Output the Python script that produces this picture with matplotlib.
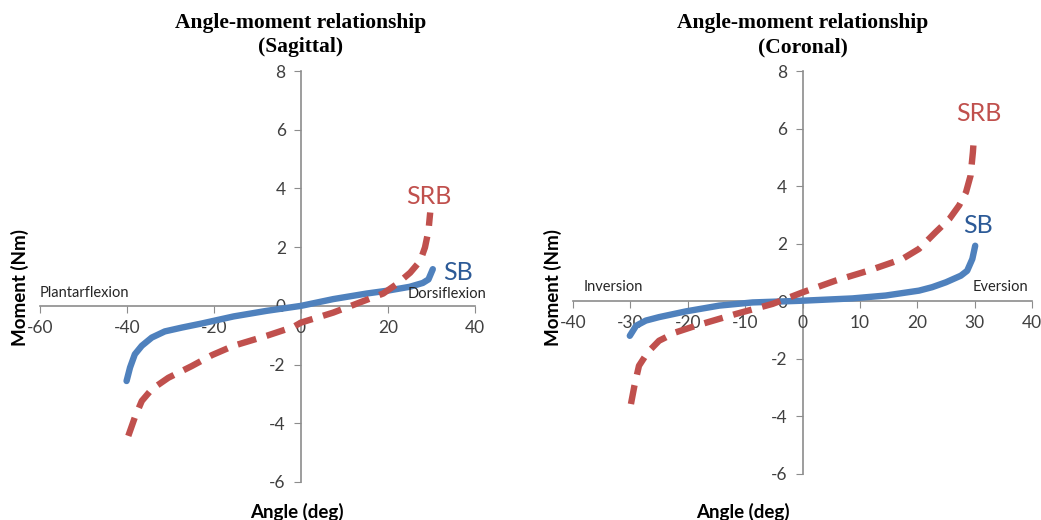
import matplotlib
matplotlib.use("Agg")
import matplotlib.pyplot as plt
import matplotlib.transforms as mtransforms

# ---- data ----
sag_sb_x = [-40.1, -39.3, -38.2, -36.6, -34.3, -31.3, -27.4, -22.8, -15.5, -7.9, 0.0, 7.4, 15.1, 20.0, 25.0, 28.0, 29.3, 30.3]
sag_sb_y = [-2.56, -2.10, -1.65, -1.36, -1.08, -0.87, -0.74, -0.60, -0.36, -0.17, 0.0, 0.23, 0.42, 0.52, 0.65, 0.78, 0.90, 1.25]
sag_srb_x = [-39.7, -38.2, -36.6, -34.3, -30.5, -25.1, -20.5, -15.5, -7.9, -1.8, 0.0, 7.4, 13.6, 18.9, 22.0, 25.1, 27.4, 28.5, 29.3, 29.7]
sag_srb_y = [-4.43, -3.80, -3.24, -2.84, -2.45, -2.05, -1.68, -1.36, -1.02, -0.72, -0.57, -0.23, 0.12, 0.42, 0.74, 1.13, 1.53, 1.99, 2.56, 3.18]

cor_sb_x = [-30.1, -29.0, -27.3, -25.0, -20.3, -14.5, -8.7, 0.0, 8.7, 14.5, 20.3, 22.6, 25.0, 27.6, 28.7, 29.6, 30.1]
cor_sb_y = [-1.20, -0.85, -0.67, -0.55, -0.35, -0.15, -0.04, 0.02, 0.10, 0.20, 0.37, 0.49, 0.66, 0.89, 1.06, 1.47, 1.93]
cor_srb_x = [-29.9, -29.3, -28.5, -27.0, -25.0, -22.1, -18.6, -11.6, -5.2, 0.0, 5.8, 11.6, 17.4, 20.3, 23.2, 25.6, 27.3, 28.5, 29.3, 29.7, 29.9]
cor_srb_y = [-3.57, -2.94, -2.24, -1.78, -1.37, -1.08, -0.85, -0.44, -0.09, 0.31, 0.72, 1.07, 1.47, 1.82, 2.40, 2.86, 3.33, 3.79, 4.37, 5.18, 5.76]

sag_xticks = [-60, -40, -20, 0, 20, 40]
cor_xticks = [-40, -30, -20, -10, 0, 10, 20, 30, 40]
yticks = [-6, -4, -2, 0, 2, 4, 6, 8]

titles = ["Angle-moment relationship\n(Sagittal)", "Angle-moment relationship\n(Coronal)"]
side_labels = [("Plantarflexion", "Dorsiflexion"), ("Inversion", "Eversion")]

BLUE = "#4F81BD"
RED = "#C0504D"
SBTXT = "#2C5A97"
AX = "#8C8C8C"
TXT = "#404040"

plt.rcParams['font.family'] = ['Lato', 'DejaVu Sans']

fig = plt.figure(figsize=(10.41, 5.2), dpi=100)
ax1 = fig.add_axes([40/1041, 38/520, 435/1041, 411/520])
ax2 = fig.add_axes([573/1041, 46/520, 459/1041, 403/520])

def style(ax, xlim, xticks):
    ax.set_xlim(*xlim)
    ax.set_ylim(-6, 8)
    for s in ['top', 'right']:
        ax.spines[s].set_visible(False)
    ax.spines['left'].set_position(('data', 0))
    ax.spines['bottom'].set_position(('data', 0))
    for s in ['left', 'bottom']:
        ax.spines[s].set_color(AX)
        ax.spines[s].set_linewidth(1.2)
        ax.spines[s].set_zorder(1)
    ax.set_xticks(xticks)
    ax.set_yticks(yticks)
    ax.set_xticklabels([str(t) for t in xticks])
    ax.set_yticklabels([str(t) for t in yticks])
    ax.tick_params(axis='x', direction='out', length=5, color=AX, labelsize=12.5, labelcolor=TXT, pad=5)
    ax.tick_params(axis='y', direction='out', length=5, color=AX, labelsize=12.5, labelcolor=TXT, pad=6)
    for lab in ax.get_xticklabels() + ax.get_yticklabels():
        lab.set_zorder(1)
    ax.patch.set_alpha(0)

style(ax1, (-60, 40), sag_xticks)
style(ax2, (-40, 40), cor_xticks)

for ax, (sbx, sby, srx, sry) in [(ax1, (sag_sb_x, sag_sb_y, sag_srb_x, sag_srb_y)),
                                 (ax2, (cor_sb_x, cor_sb_y, cor_srb_x, cor_srb_y))]:
    ax.plot(sbx, sby, color=BLUE, lw=4.6, solid_capstyle='round', solid_joinstyle='round', zorder=3)
    ax.plot(srx, sry, color=RED, lw=4.6, dashes=(3.0, 1.7), dash_joinstyle='round', zorder=4)

# curve labels
ax1.text(24.1, 3.71, "SRB", color=RED, fontsize=18, ha='left', va='center', zorder=5)
ax1.text(32.6, 1.12, "SB", color=SBTXT, fontsize=18, ha='left', va='center', zorder=5)
ax2.text(26.7, 6.51, "SRB", color=RED, fontsize=18, ha='left', va='center', zorder=5)
ax2.text(28.0, 2.62, "SB", color=SBTXT, fontsize=18, ha='left', va='center', zorder=5)

# side labels
ax1.text(-60, 0.44, side_labels[0][0], fontsize=10.5, color='#262626', ha='left', va='center')
ax1.text(24.6, 0.40, side_labels[0][1], fontsize=10.5, color='#262626', ha='left', va='center')
ax2.text(-38.2, 0.50, side_labels[1][0], fontsize=10.5, color='#262626', ha='left', va='center')
ax2.text(29.6, 0.50, side_labels[1][1], fontsize=10.5, color='#262626', ha='left', va='center')

# titles centred on the y axis
for ax, t in [(ax1, titles[0]), (ax2, titles[1])]:
    tr = mtransforms.blended_transform_factory(ax.transData, fig.transFigure)
    ax.text(0, 1 - 35/520, t, transform=tr, ha='center', va='center',
            fontsize=15.5, fontweight='bold', family='Liberation Serif',
            linespacing=1.3, color='black')

# axis labels
fig.text(20/1041, 1 - 287/520, "Moment (Nm)", rotation=90, ha='center', va='center',
         fontsize=13.5, fontweight='bold', color='black')
fig.text(553/1041, 1 - 287/520, "Moment (Nm)", rotation=90, ha='center', va='center',
         fontsize=13.5, fontweight='bold', color='black')
fig.text(297/1041, 1 - 512/520, "Angle (deg)", ha='center', va='center',
         fontsize=13.5, fontweight='bold', color='black')
fig.text(743/1041, 1 - 512/520, "Angle (deg)", ha='center', va='center',
         fontsize=13.5, fontweight='bold', color='black')

fig.savefig("out.png", dpi=100)
